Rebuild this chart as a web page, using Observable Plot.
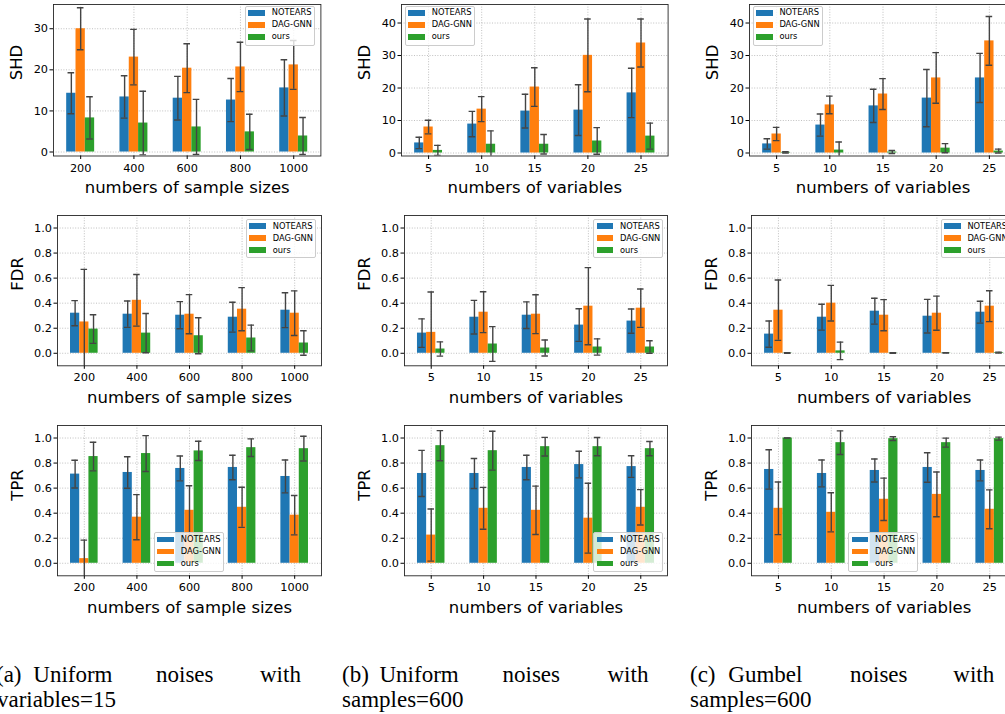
<!DOCTYPE html>
<html><head><meta charset="utf-8">
<script src="https://cdn.jsdelivr.net/npm/d3@7"></script>
<script src="https://cdn.jsdelivr.net/npm/@observablehq/plot@0.6"></script>
<style>
html,body{margin:0;padding:0;background:#fff;}
#page{position:relative;width:1005px;height:714px;overflow:hidden;background:#fff;}
.panel{position:absolute;}
.panel svg{max-width:none !important;}
.legend{position:absolute;background:rgba(255,255,255,0.8);border:1px solid #cccccc;border-radius:2px;box-sizing:border-box;font-family:"DejaVu Sans";font-size:8.3px;color:#000;z-index:5;}
.legend .sw{position:absolute;width:16.7px;height:5.8px;}
.legend .lb{position:absolute;line-height:1;white-space:nowrap;}
.cap{position:absolute;font-family:"Liberation Serif";font-size:23px;line-height:1;white-space:nowrap;color:#000;}
</style></head><body><div id="page"></div>
<script>
// ---------- data ----------
const methods = ["NOTEARS", "DAG-GNN", "ours"];
const colors = ["#1f77b4", "#ff7f0e", "#2ca02c"];
const sampleSizes = ["200", "400", "600", "800", "1000"];
const numVars = ["5", "10", "15", "20", "25"];
const shdTicksA = [0, 10, 20, 30];
const shdTicksB = [0, 10, 20, 30, 40];
const rateTicks = [0, 0.2, 0.4, 0.6, 0.8, 1.0];

// (a) uniform noises, variables=15 (rows: NOTEARS, DAG-GNN, ours)
const shdA_mean = [[14.3, 13.4, 13.1, 12.65, 15.6], [30.0, 23.1, 20.4, 20.7, 21.2], [8.3, 7.05, 6.1, 4.9, 3.9]];
const shdA_std  = [[5.0, 5.15, 5.3, 5.25, 6.85], [5.1, 6.75, 5.95, 6.0, 5.95], [5.15, 7.75, 6.7, 4.3, 4.5]];
const fdrA_mean = [[0.32, 0.312, 0.304, 0.288, 0.344], [0.25, 0.423, 0.312, 0.352, 0.32], [0.193, 0.161, 0.14, 0.122, 0.082]];
const fdrA_std  = [[0.1, 0.105, 0.108, 0.119, 0.139], [0.42, 0.206, 0.156, 0.172, 0.178], [0.114, 0.157, 0.144, 0.103, 0.098]];
const tprA_mean = [[0.712, 0.725, 0.757, 0.765, 0.693], [0.037, 0.368, 0.423, 0.447, 0.384], [0.852, 0.876, 0.897, 0.923, 0.915]];
const tprA_std  = [[0.111, 0.126, 0.099, 0.098, 0.131], [0.148, 0.18, 0.196, 0.16, 0.157], [0.114, 0.143, 0.077, 0.07, 0.099]];

// (b) uniform noises, samples=600
const shdB_mean = [[3.1, 8.9, 12.9, 13.2, 18.5], [8.0, 13.5, 20.3, 30.05, 33.85], [0.8, 2.7, 2.7, 3.7, 5.2]];
const shdB_std  = [[1.75, 3.9, 5.2, 7.8, 7.6], [2.1, 3.85, 5.95, 11.2, 7.4], [1.55, 4.1, 3.0, 4.1, 4.0]];
const fdrB_mean = [[0.161, 0.288, 0.304, 0.225, 0.257], [0.167, 0.328, 0.312, 0.376, 0.36], [0.034, 0.074, 0.042, 0.05, 0.05]];
const fdrB_std  = [[0.114, 0.134, 0.106, 0.13, 0.097], [0.322, 0.163, 0.155, 0.308, 0.153], [0.057, 0.139, 0.064, 0.065, 0.05]];
const tprB_mean = [[0.717, 0.717, 0.765, 0.788, 0.772], [0.225, 0.439, 0.423, 0.36, 0.447], [0.939, 0.899, 0.931, 0.931, 0.915]];
const tprB_std  = [[0.184, 0.12, 0.098, 0.106, 0.086], [0.208, 0.167, 0.193, 0.279, 0.141], [0.12, 0.155, 0.074, 0.073, 0.057]];

// (c) gumbel noises, samples=600
const shdC_mean = [[2.8, 8.6, 14.5, 16.9, 23.1], [5.85, 14.8, 18.15, 23.1, 34.5], [0.2, 0.9, 0.3, 1.5, 0.6]];
const shdC_std  = [[1.6, 3.4, 5.1, 8.8, 7.55], [2.05, 2.7, 4.75, 7.8, 7.5], [0.2, 2.5, 0.45, 1.4, 0.6]];
const fdrC_mean = [[0.153, 0.288, 0.336, 0.296, 0.328], [0.344, 0.4, 0.304, 0.32, 0.376], [0.002, 0.019, 0.002, 0.003, 0.005]];
const fdrC_std  = [[0.105, 0.103, 0.103, 0.134, 0.087], [0.241, 0.142, 0.124, 0.136, 0.123], [0.002, 0.07, 0.002, 0.002, 0.004]];
const tprC_mean = [[0.749, 0.717, 0.741, 0.765, 0.741], [0.439, 0.407, 0.511, 0.55, 0.431], [1.0, 0.963, 0.995, 0.963, 0.995]];
const tprC_std  = [[0.157, 0.107, 0.092, 0.118, 0.083], [0.21, 0.156, 0.169, 0.179, 0.155], [0.001, 0.094, 0.015, 0.036, 0.012]];

// ---------- layout ----------
const page = document.getElementById("page");
const ML = 60, MR = 12, MT = 8, MB = 45;
const barW = 0.175, capW = 0.062;
const fmtInt = d3.format("d"), fmt1 = d3.format(".1f");

function panel(o) {
  const fw = o.right - o.left, fh = o.bottom - o.top;
  const rows = [];
  methods.forEach((m, j) => o.xLabels.forEach((lab, i) => rows.push({
    i, method: m, v: o.mean[j][i], s: o.std[j][i], c: i + (j - 1) * barW
  })));
  const xt = d3.range(o.xLabels.length);
  const gridStyle = {stroke: "#b0b0b0", strokeOpacity: 1, strokeDasharray: "1,1.6", strokeWidth: 0.8};
  const errStyle = {stroke: "#444", strokeOpacity: 1, strokeWidth: 1.4, clip: true};
  const W = fw + ML + MR, H = fh + MT + MB;
  const chart = Plot.plot({
    width: W, height: H,
    marginLeft: ML, marginRight: MR, marginTop: MT, marginBottom: MB,
    x: {type: "linear", domain: [-0.51, 4.51]},
    y: {domain: o.yDomain},
    color: {domain: methods, range: colors},
    style: {fontFamily: "DejaVu Sans", fontSize: "11.3px", background: "transparent", overflow: "visible", color: "#000", maxWidth: "none"},
    marks: [
      Plot.gridX(xt, gridStyle),
      Plot.gridY(o.yTicks, gridStyle),
      Plot.rect(rows, {x1: d => d.c - barW / 2, x2: d => d.c + barW / 2, y1: 0, y2: "v", fill: "method", clip: true}),
      Plot.ruleX(rows, {x: "c", y1: d => d.v - d.s, y2: d => d.v + d.s, ...errStyle}),
      Plot.ruleY(rows, {y: d => d.v + d.s, x1: d => d.c - capW, x2: d => d.c + capW, ...errStyle}),
      Plot.ruleY(rows, {y: d => d.v - d.s, x1: d => d.c - capW, x2: d => d.c + capW, ...errStyle}),
      Plot.frame({stroke: "#262626", strokeWidth: 0.9}),
      Plot.axisX(xt, {tickFormat: i => o.xLabels[i], tickSize: 3.5, tickPadding: 4, fontSize: 11.3, label: null}),
      Plot.axisY(o.yTicks, {tickFormat: o.yFmt, tickSize: 3.5, tickPadding: 2, fontSize: 11.3, label: null}),
      Plot.text([o.xTitle], {text: d => d, frameAnchor: "bottom", dy: 31.7, fontSize: 16.5, lineAnchor: "middle"}),
      Plot.text([o.yTitle], {text: d => d, frameAnchor: "left", dx: -o.yDx, rotate: -90, fontSize: 16.5, lineAnchor: "middle"})
    ]
  });
  chart.style.maxWidth = "none";
  chart.style.width = W + "px";
  chart.style.height = H + "px";
  const wrap = document.createElement("div");
  wrap.className = "panel";
  wrap.style.left = (o.left - ML) + "px";
  wrap.style.top = (o.top - MT) + "px";
  wrap.style.width = W + "px";
  wrap.style.height = H + "px";
  wrap.appendChild(chart);
  page.appendChild(wrap);
}

function legend(x, y, h) {
  const box = document.createElement("div");
  box.className = "legend";
  box.style.left = x + "px"; box.style.top = y + "px";
  box.style.width = "70px"; box.style.height = h + "px";
  const offs = [7.3, 19.3, 31.3];
  methods.forEach((m, j) => {
    const sw = document.createElement("div");
    sw.className = "sw";
    sw.style.background = colors[j];
    sw.style.left = "2.3px"; sw.style.top = (offs[j] - 1 - 2.9) + "px";
    box.appendChild(sw);
    const lb = document.createElement("div");
    lb.className = "lb";
    lb.textContent = m;
    lb.style.left = "25.7px"; lb.style.top = (offs[j] - 1 - 4.6) + "px";
    box.appendChild(lb);
  });
  page.appendChild(box);
}

function caption(text, x, baseline) {
  const s = document.createElement("div");
  s.className = "cap";
  s.textContent = text;
  s.style.left = x + "px";
  s.style.top = (baseline - 19.3) + "px";
  page.appendChild(s);
}

const r1 = {top: 3.5, bottom: 155}, r2 = {top: 214.7, bottom: 365}, r3 = {top: 424.7, bottom: 575};
const colA1 = {left: 53.3, right: 320.7}, colB1 = {left: 400.7, right: 667.3}, colC1 = {left: 749, right: 1016};
const colA = {left: 56.7, right: 320.7}, colB = {left: 404.3, right: 667.3}, colC = {left: 751.3, right: 1016.5};
const sX = {xLabels: sampleSizes, xTitle: "numbers of sample sizes"};
const vX = {xLabels: numVars, xTitle: "numbers of variables"};
const shdA = {yTitle: "SHD", yDx: 37, yDomain: [-0.97, 35.9], yTicks: shdTicksA, yFmt: fmtInt};
const shdB = {yTitle: "SHD", yDx: 37, yDomain: [-0.92, 45.7], yTicks: shdTicksB, yFmt: fmtInt};
const fdr = {yTitle: "FDR", yDx: 40, yDomain: [-0.1, 1.1], yTicks: rateTicks, yFmt: fmt1};
const tpr = {yTitle: "TPR", yDx: 40, yDomain: [-0.1, 1.1], yTicks: rateTicks, yFmt: fmt1};

panel({...r1, ...colA1, ...sX, ...shdA, mean: shdA_mean, std: shdA_std});
panel({...r1, ...colB1, ...vX, ...shdB, mean: shdB_mean, std: shdB_std});
panel({...r1, ...colC1, ...vX, ...shdB, mean: shdC_mean, std: shdC_std});
panel({...r2, ...colA, ...sX, ...fdr, mean: fdrA_mean, std: fdrA_std});
panel({...r2, ...colB, ...vX, ...fdr, mean: fdrB_mean, std: fdrB_std});
panel({...r2, ...colC, ...vX, ...fdr, mean: fdrC_mean, std: fdrC_std});
panel({...r3, ...colA, ...sX, ...tpr, mean: tprA_mean, std: tprA_std});
panel({...r3, ...colB, ...vX, ...tpr, mean: tprB_mean, std: tprB_std});
panel({...r3, ...colC, ...vX, ...tpr, mean: tprC_mean, std: tprC_std});

legend(245, 5.7, 40); legend(405, 5.7, 40); legend(752.7, 5.7, 40);
legend(246, 219, 39.3); legend(593.3, 219, 39.3); legend(940.7, 219, 39.3);
legend(154, 532.3, 39.3); legend(593.3, 532.3, 39.3); legend(848.3, 532.3, 39.3);

const base1 = 682, base2 = 707.5;
caption("(a)", -4, base1); caption("Uniform", 33.3, base1); caption("noises", 156, base1); caption("with", 260, base1);
caption("variables=15", -3, base2);
caption("(b)", 342, base1); caption("Uniform", 379.5, base1); caption("noises", 502.5, base1); caption("with", 607.5, base1);
caption("samples=600", 342, base2);
caption("(c)", 690, base1); caption("Gumbel", 728.3, base1); caption("noises", 850, base1); caption("with", 953.3, base1);
caption("samples=600", 690, base2);
</script></body></html>
